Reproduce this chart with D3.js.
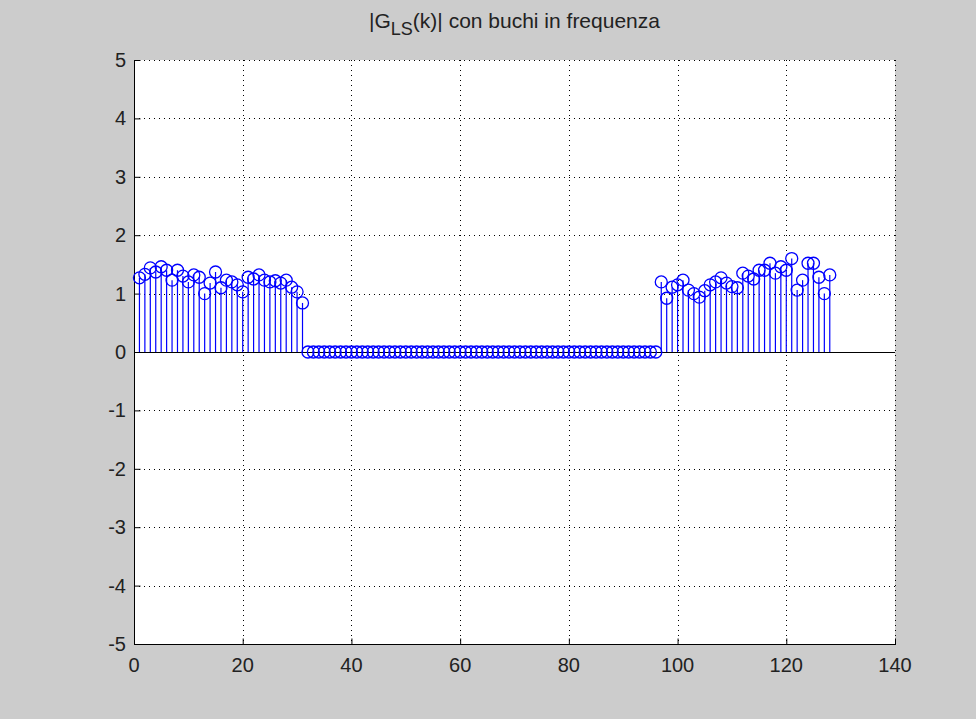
<!DOCTYPE html>
<html>
<head>
<meta charset="utf-8">
<script src="https://cdn.jsdelivr.net/npm/d3@7"></script>
<style>
  body { margin: 0; background: #cccccc; }
  svg { display: block; }
  text { font-family: "Liberation Sans", Arial, sans-serif; fill: #222; }
</style>
</head>
<body>
<svg id="chart" width="976" height="719"></svg>
<script>
// |G_LS(k)| - bins 1..31 and 97..128 carry energy, the middle is zeroed
const lowBins = [1.27, 1.33, 1.44, 1.37, 1.46, 1.4, 1.23, 1.4, 1.3, 1.2, 1.32, 1.28, 1.0,
  1.18, 1.37, 1.1, 1.23, 1.2, 1.15, 1.03, 1.28, 1.25, 1.32, 1.23, 1.2, 1.22, 1.18, 1.23,
  1.11, 1.03, 0.84];
const holeCount = 65; // k = 32..96
const highBins = [1.2, 0.92, 1.11, 1.15, 1.23, 1.06, 1.0, 0.94, 1.05, 1.15, 1.2, 1.27, 1.18,
  1.12, 1.1, 1.35, 1.3, 1.25, 1.4, 1.4, 1.52, 1.35, 1.46, 1.4, 1.6, 1.06, 1.23, 1.52,
  1.52, 1.28, 1.0, 1.32];
const xTicks = [0, 20, 40, 60, 80, 100, 120, 140];
const yTicks = [-5, -4, -3, -2, -1, 0, 1, 2, 3, 4, 5];
const titleMain = "|G";
const titleSub = "LS";
const titleRest = "(k)| con buchi in frequenza";

const values = lowBins.concat(d3.range(holeCount).map(() => 0), highBins);
const points = values.map((v, i) => ({ k: i + 1, v: v }));

const svg = d3.select("#chart");
const plot = { left: 134, right: 895, top: 60, bottom: 644 };

const x = d3.scaleLinear().domain([0, 140]).range([plot.left, plot.right]);
const y = d3.scaleLinear().domain([-5, 5]).range([plot.bottom, plot.top]);

svg.append("rect")
  .attr("width", 976)
  .attr("height", 719)
  .attr("fill", "#cccccc");

svg.append("rect")
  .attr("x", plot.left)
  .attr("y", plot.top)
  .attr("width", plot.right - plot.left)
  .attr("height", plot.bottom - plot.top)
  .attr("fill", "white");

// dotted grid
const grid = svg.append("g")
  .attr("stroke", "#000")
  .attr("stroke-width", 1)
  .attr("stroke-dasharray", "1,4");

grid.selectAll(".gx")
  .data(xTicks.filter((t) => t > 0))
  .enter()
  .append("line")
  .attr("x1", (d) => Math.round(x(d)) + 0.5)
  .attr("x2", (d) => Math.round(x(d)) + 0.5)
  .attr("y1", plot.top)
  .attr("y2", plot.bottom);

grid.selectAll(".gy")
  .data(yTicks.filter((t) => t > -5))
  .enter()
  .append("line")
  .attr("x1", plot.left)
  .attr("x2", plot.right)
  .attr("y1", (d) => Math.round(y(d)) + 0.5)
  .attr("y2", (d) => Math.round(y(d)) + 0.5);

// axes, ticks pointing inward, no box
const xAxis = svg.append("g")
  .attr("transform", `translate(0,${plot.bottom + 0.5})`)
  .call(d3.axisTop(x).tickValues(xTicks).tickSize(6).tickFormat(""));
xAxis.select(".domain").attr("d", `M${plot.left},0H${plot.right + 1}`);

const yAxis = svg.append("g")
  .attr("transform", `translate(${plot.left + 0.5},0)`)
  .call(d3.axisRight(y).tickValues(yTicks).tickSize(6).tickFormat(""));
yAxis.select(".domain").attr("d", `M0,${plot.top}V${plot.bottom}`);

svg.selectAll(".xlabel")
  .data(xTicks)
  .enter()
  .append("text")
  .attr("x", (d) => x(d))
  .attr("y", plot.bottom + 28)
  .attr("text-anchor", "middle")
  .style("font-size", "20px")
  .text((d) => d);

svg.selectAll(".ylabel")
  .data(yTicks)
  .enter()
  .append("text")
  .attr("x", plot.left - 8)
  .attr("y", (d) => y(d))
  .attr("dy", "0.35em")
  .attr("text-anchor", "end")
  .style("font-size", "20px")
  .text((d) => d);

// stem baseline
svg.append("line")
  .attr("x1", plot.left)
  .attr("x2", plot.right)
  .attr("y1", Math.round(y(0)) + 0.5)
  .attr("y2", Math.round(y(0)) + 0.5)
  .attr("stroke", "#000")
  .attr("stroke-width", 1.2);

svg.selectAll(".stem")
  .data(points)
  .enter()
  .append("line")
  .attr("x1", (d) => x(d.k))
  .attr("x2", (d) => x(d.k))
  .attr("y1", y(0))
  .attr("y2", (d) => y(d.v))
  .attr("stroke", "#0000ff")
  .attr("stroke-width", 1.2);

svg.selectAll(".marker")
  .data(points)
  .enter()
  .append("circle")
  .attr("cx", (d) => x(d.k))
  .attr("cy", (d) => y(d.v))
  .attr("r", 6)
  .attr("fill", "none")
  .attr("stroke", "#0000ff")
  .attr("stroke-width", 1.3);

// title with subscript
const title = svg.append("text")
  .attr("x", (plot.left + plot.right) / 2)
  .attr("y", 28)
  .attr("text-anchor", "middle")
  .style("font-size", "21px");
title.append("tspan").text(titleMain);
title.append("tspan").attr("dy", 7).style("font-size", "18px").text(titleSub);
title.append("tspan").attr("dy", -7).text(titleRest);
</script>
</body>
</html>
